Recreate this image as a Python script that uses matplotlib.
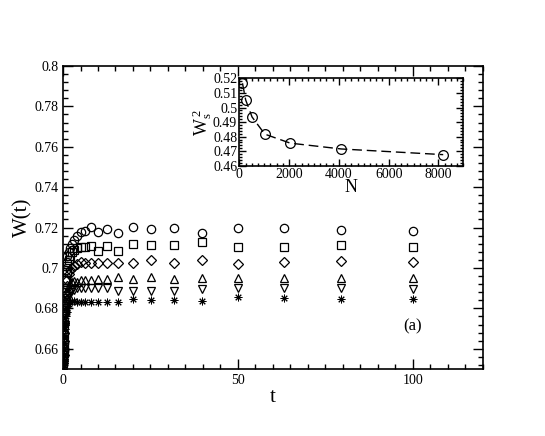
import matplotlib
matplotlib.use('Agg')
import matplotlib.pyplot as plt
from matplotlib.ticker import MultipleLocator

plt.rcParams['font.family'] = ['Liberation Serif', 'DejaVu Serif']
plt.rcParams['mathtext.fontset'] = 'custom'
plt.rcParams['mathtext.rm'] = 'Liberation Serif'
plt.rcParams['mathtext.it'] = 'Liberation Serif'

# time points (log spaced)
t = [0.1, 0.126, 0.158, 0.2, 0.251, 0.316, 0.398, 0.501, 0.631, 0.794,
     1.0, 1.26, 1.58, 2.0, 2.51, 3.16, 3.98, 5.01, 6.31, 7.94,
     10.0, 12.6, 15.8, 20.0, 25.1, 31.6, 39.8, 50.1, 63.1, 79.4, 100.0]

w_circle = [0.654, 0.656, 0.659, 0.663, 0.668, 0.674, 0.681, 0.688, 0.694, 0.699,
            0.703, 0.706, 0.708, 0.710, 0.712, 0.714, 0.716, 0.718, 0.7185, 0.7202,
            0.718, 0.7192, 0.7175, 0.7205, 0.7193, 0.7197, 0.7175, 0.7197, 0.7197, 0.7188, 0.7185]
w_square = [0.653, 0.655, 0.658, 0.662, 0.667, 0.672, 0.678, 0.684, 0.689, 0.694,
            0.698, 0.701, 0.704, 0.706, 0.708, 0.709, 0.710, 0.7106, 0.7103, 0.7109,
            0.7086, 0.7110, 0.7086, 0.7119, 0.7114, 0.7114, 0.713, 0.7106, 0.7103, 0.7114, 0.7103]
w_diamond = [0.653, 0.655, 0.657, 0.660, 0.664, 0.668, 0.673, 0.678, 0.683, 0.687,
             0.691, 0.694, 0.697, 0.699, 0.700, 0.701, 0.702, 0.7031, 0.7023, 0.7023,
             0.7023, 0.7023, 0.7023, 0.7023, 0.704, 0.7023, 0.704, 0.7018, 0.7031, 0.7035, 0.7031]
w_up = [0.652, 0.654, 0.656, 0.659, 0.662, 0.666, 0.670, 0.674, 0.678, 0.682,
        0.685, 0.688, 0.690, 0.692, 0.693, 0.6935, 0.6932, 0.694, 0.694, 0.694,
        0.6944, 0.6944, 0.6954, 0.6944, 0.6954, 0.6944, 0.6949, 0.6952, 0.6952, 0.6952, 0.6952]
w_down = [0.652, 0.653, 0.655, 0.658, 0.661, 0.664, 0.668, 0.672, 0.676, 0.679,
          0.682, 0.684, 0.686, 0.688, 0.689, 0.689, 0.690, 0.690, 0.690, 0.690,
          0.690, 0.690, 0.6888, 0.6888, 0.6888, 0.6888, 0.6895, 0.690, 0.690, 0.690, 0.6895]
w_star = [0.651, 0.652, 0.654, 0.657, 0.660, 0.663, 0.666, 0.670, 0.673, 0.676,
          0.678, 0.680, 0.682, 0.683, 0.6835, 0.6835, 0.6833, 0.6833, 0.6833, 0.6833,
          0.6833, 0.6833, 0.6833, 0.6847, 0.6842, 0.6842, 0.6837, 0.6858, 0.685, 0.6847, 0.6847]

# inset: saturation width squared vs N
N = [128, 256, 512, 1024, 2048, 4096, 8192]
ws2 = [0.5167, 0.5052, 0.4935, 0.4817, 0.4755, 0.4715, 0.4676]

series = [(w_circle, 'o', 6, 0.9), (w_square, 's', 6, 0.9), (w_diamond, 'D', 4.8, 0.9),
          (w_up, '^', 6, 0.9), (w_down, 'v', 6, 0.9), (w_star, (8, 2, 0), 5.5, 0.7)]

fig = plt.figure(figsize=(5.45, 4.36), dpi=100)
ax = fig.add_axes([0.1156, 0.1537, 0.7706, 0.6950])

for w, m, ms, mew in series:
    ax.plot(t, w, linestyle='none', marker=m, markersize=ms, markerfacecolor='none',
            markeredgecolor='black', markeredgewidth=mew)

ax.set_xlim(0, 120)
ax.set_ylim(0.65, 0.8)
ax.xaxis.set_major_locator(MultipleLocator(50))
ax.xaxis.set_minor_locator(MultipleLocator(5))
ax.yaxis.set_major_locator(MultipleLocator(0.02))
ax.yaxis.set_minor_locator(MultipleLocator(0.004))
ax.set_yticks([0.66, 0.68, 0.7, 0.72, 0.74, 0.76, 0.78, 0.8])
ax.set_yticklabels(['0.66', '0.68', '0.7', '0.72', '0.74', '0.76', '0.78', '0.8'])
ax.tick_params(which='both', direction='in', top=True, right=True, labelsize=10)
ax.tick_params(which='major', length=7, width=1)
ax.tick_params(which='minor', length=3.5, width=1)
for s in ax.spines.values():
    s.set_linewidth(1.2)
ax.set_xlabel('t', fontsize=15, labelpad=1)
ax.set_ylabel('W(t)', fontsize=15, labelpad=1)
ax.text(100, 0.671, '(a)', fontsize=12, ha='center', va='center')

# inset
axin = fig.add_axes([0.4391, 0.620, 0.411, 0.200])
axin.plot(N, ws2, linestyle=(0, (7, 3.5)), color='black', linewidth=1,
          marker='o', markersize=7, markerfacecolor='none',
          markeredgecolor='black', markeredgewidth=0.9)
axin.set_xlim(0, 9000)
axin.set_ylim(0.46, 0.52)
axin.xaxis.set_major_locator(MultipleLocator(2000))
axin.xaxis.set_minor_locator(MultipleLocator(250))
axin.yaxis.set_major_locator(MultipleLocator(0.01))
axin.yaxis.set_minor_locator(MultipleLocator(0.002))
axin.set_yticks([0.46, 0.47, 0.48, 0.49, 0.5, 0.51, 0.52])
axin.set_yticklabels(['0.46', '0.47', '0.48', '0.49', '0.5', '0.51', '0.52'])
axin.tick_params(which='both', direction='in', top=True, right=True, labelsize=10,
                 pad=1.5)
axin.tick_params(which='major', length=5, width=1)
axin.tick_params(which='minor', length=2.5, width=1)
for s in axin.spines.values():
    s.set_linewidth(1.2)
axin.set_xlabel('N', fontsize=13, labelpad=-1)
axin.set_ylabel(r'$\mathregular{W_s^{\;2}}$', fontsize=13, labelpad=-1)

fig.savefig('out.png', dpi=100)
